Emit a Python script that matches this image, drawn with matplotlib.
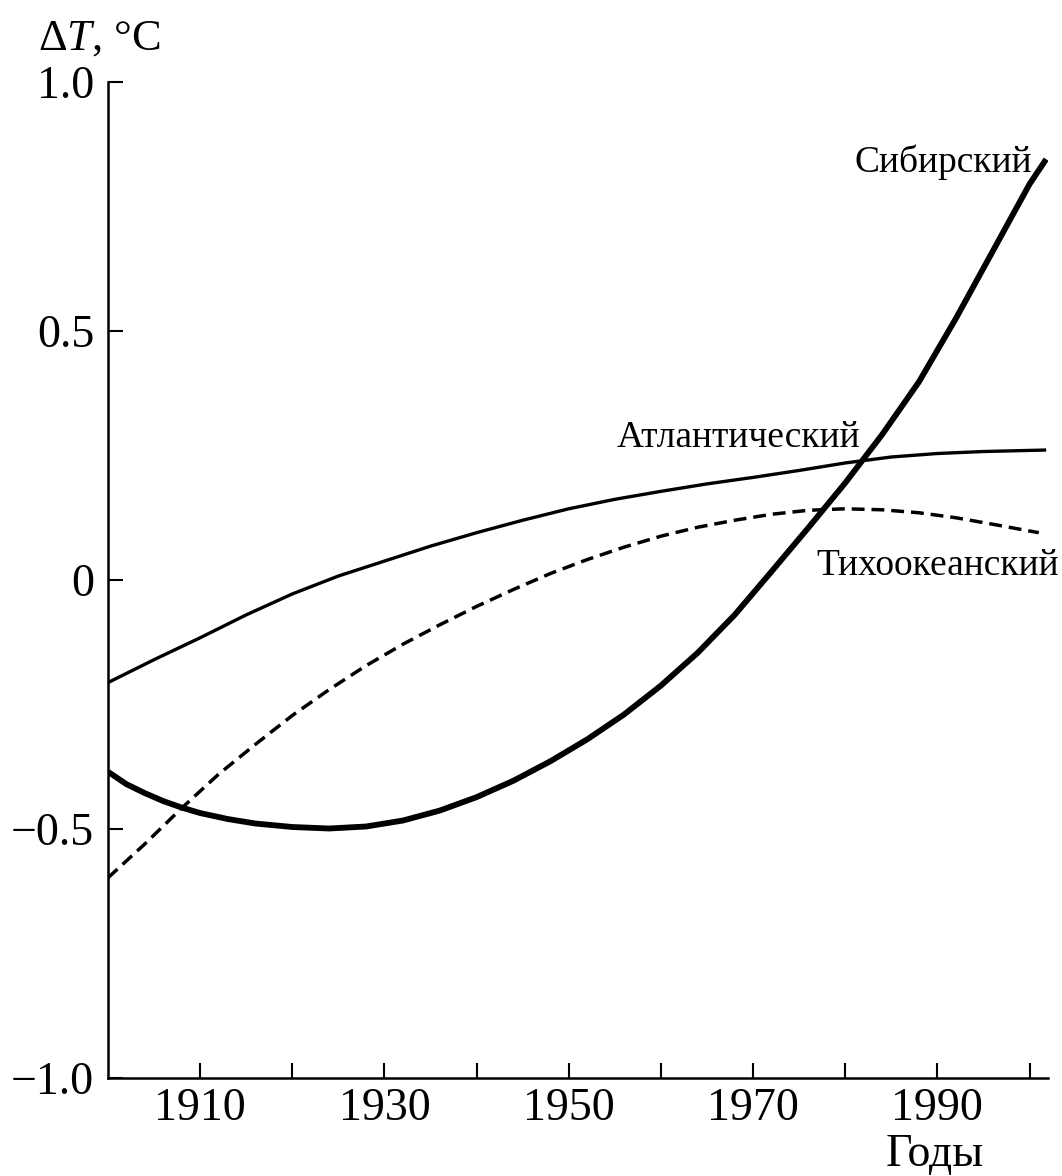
"""
Temperature anomaly curves (Siberian, Atlantic, Pacific), 1900-2000
"""

import matplotlib
matplotlib.use("Agg")
import matplotlib.pyplot as plt

plt.rcParams['font.family'] = ['Liberation Serif', 'DejaVu Serif']
plt.rcParams['mathtext.fontset'] = 'custom'
plt.rcParams['mathtext.rm'] = 'Liberation Serif'
plt.rcParams['mathtext.it'] = 'Liberation Serif:italic'

# Data
sib_years = [1900, 1902, 1904, 1906, 1908, 1910, 1913, 1916, 1920, 1924, 1928, 1932, 1936,
             1940, 1944, 1948, 1952, 1956, 1960, 1964, 1968, 1972, 1976, 1980, 1984, 1988,
             1992, 1996, 2000, 2001.8]
sib_vals = [-0.385, -0.41, -0.428, -0.444, -0.457, -0.468, -0.48, -0.489, -0.496, -0.499,
            -0.495, -0.483, -0.463, -0.436, -0.403, -0.364, -0.32, -0.27, -0.212, -0.146,
            -0.07, 0.017, 0.105, 0.195, 0.292, 0.398, 0.525, 0.66, 0.795, 0.845]

atl_years = [1900, 1905, 1910, 1915, 1920, 1925, 1930, 1935, 1940, 1945, 1950, 1955, 1960,
             1965, 1970, 1975, 1980, 1985, 1990, 1995, 2001.8]
atl_vals = [-0.206, -0.16, -0.116, -0.07, -0.028, 0.008, 0.038, 0.068, 0.095, 0.12, 0.143,
            0.162, 0.178, 0.193, 0.206, 0.22, 0.235, 0.247, 0.254, 0.258, 0.261]

pac_years = [1900, 1904, 1908, 1912, 1916, 1920, 1924, 1928, 1932, 1936, 1940, 1944, 1948,
             1952, 1956, 1960, 1964, 1968, 1972, 1976, 1980, 1984, 1988, 1992, 1996, 2001]
pac_vals = [-0.598, -0.53, -0.458, -0.39, -0.33, -0.272, -0.22, -0.172, -0.129, -0.09, -0.053,
            -0.019, 0.013, 0.041, 0.066, 0.088, 0.106, 0.12, 0.132, 0.14, 0.143, 0.141, 0.135,
            0.125, 0.112, 0.095]

x_ticks = [1910, 1920, 1930, 1940, 1950, 1960, 1970, 1980, 1990, 2000]
x_tick_labels = ['1910', '', '1930', '', '1950', '', '1970', '', '1990', '']
y_ticks = [-1.0, -0.5, 0, 0.5, 1.0]
y_tick_labels = ['\u22121.0', '\u22120.5', '0', '0.5', '1.0']

fig = plt.figure(figsize=(10.62, 11.76), dpi=100)
ax = fig.add_axes([108 / 1062, 98 / 1176, 940 / 1062, 996 / 1176])

ax.plot(sib_years, sib_vals, color='black', lw=4.2, solid_capstyle='butt',
        solid_joinstyle='round')
ax.plot(atl_years, atl_vals, color='black', lw=2.4, solid_capstyle='butt',
        solid_joinstyle='round')
ax.plot(pac_years, pac_vals, color='black', lw=2.5, linestyle=(0, (3.7, 2.0)))

ax.set_xlim(1900, 2002)
ax.set_ylim(-1.0, 1.0)
ax.set_xticks(x_ticks)
ax.set_xticklabels(x_tick_labels)
ax.set_yticks(y_ticks)
ax.set_yticklabels(y_tick_labels)

for s in ['top', 'right']:
    ax.spines[s].set_visible(False)
for s in ['left', 'bottom']:
    ax.spines[s].set_linewidth(1.8)

ax.tick_params(direction='in', length=11, width=1.5, labelsize=33, pad=10)
ax.tick_params(axis='x', pad=7)

# Curve labels
ax.text(2000.3, 0.819, 'Сибирский', fontsize=27, ha='right', va='baseline')
ax.text(1955.2, 0.268, 'Атлантический', fontsize=27, ha='left', va='baseline')
ax.text(1976.9, 0.01, 'Тихоокеанский', fontsize=27, ha='left', va='baseline')

# Axis titles
fig.text(38 / 1062, 1 - 50 / 1176, r'$\Delta T$, °C', fontsize=32, ha='left', va='baseline')
fig.text(984 / 1062, 1 - 1166 / 1176, 'Годы', fontsize=33, ha='right', va='baseline')

fig.savefig('out.png', dpi=100, facecolor='white')
